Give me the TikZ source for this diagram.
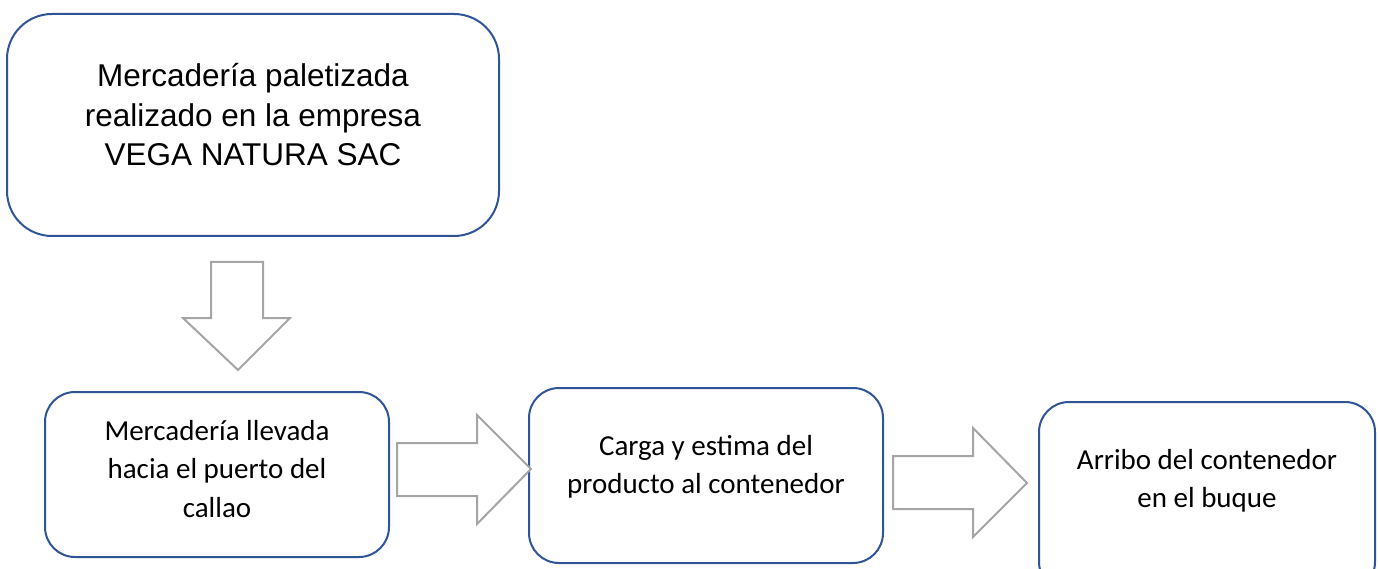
\documentclass[tikz,border=0pt]{standalone}
\usepackage{fontspec}
\setmainfont{Carlito}
\newfontfamily\arialfont{Liberation Sans}
\definecolor{boxblue}{HTML}{2F5597}
\definecolor{arrowgray}{HTML}{A5A5A5}
\begin{document}
\begin{tikzpicture}[x=1pt,y=-1pt,
  stagebox/.style={draw=boxblue, line width=2pt, fill=white, rounded corners=#1, inner sep=0pt},
  stagebox/.default=30pt,
  toptext/.style={align=center, inner sep=0pt, font=\arialfont\fontsize{31.5}{39.5}\selectfont},
  lowtext/.style={align=center, inner sep=0pt, font=\fontsize{29}{38.5}\selectfont},
  blockarrow/.style={draw=arrowgray, line width=2pt, fill=white, line join=miter}]
\useasboundingbox (0,0) rectangle (1378,569);
% boxes
\node[stagebox=45pt, minimum width=492pt, minimum height=222pt] (top) at (253,125) {};
\node[toptext] (toptxt) at (253,115) {Mercadería paletizada\\realizado en la empresa\\VEGA NATURA SAC};
\node[stagebox, minimum width=344pt, minimum height=165pt] (b1) at (217,474.5) {};
\node[lowtext] (b1txt) at (217,469) {Mercadería llevada\\hacia el puerto del\\callao};
\node[stagebox, minimum width=354pt, minimum height=175pt] (b2) at (706,475.5) {};
\node[lowtext] (b2txt) at (706,467) {Carga y estima del\\producto al contenedor};
\node[stagebox, minimum width=336pt, minimum height=190pt] (b3) at (1207,497) {};
\node[lowtext] (b3txt) at (1207,481) {Arribo del contenedor\\en el buque};
% block arrows
\draw[blockarrow] (211,262) -- (263,262) -- (263,318) -- (290,318) -- (238,370) -- (183,318) -- (211,318) -- cycle;
\draw[blockarrow] (397,443) -- (477,443) -- (477,415) -- (531,469) -- (477,524) -- (477,496) -- (397,496) -- cycle;
\draw[blockarrow] (893,456) -- (973,456) -- (973,428) -- (1027,483) -- (973,537) -- (973,509) -- (893,509) -- cycle;
\end{tikzpicture}
\end{document}
